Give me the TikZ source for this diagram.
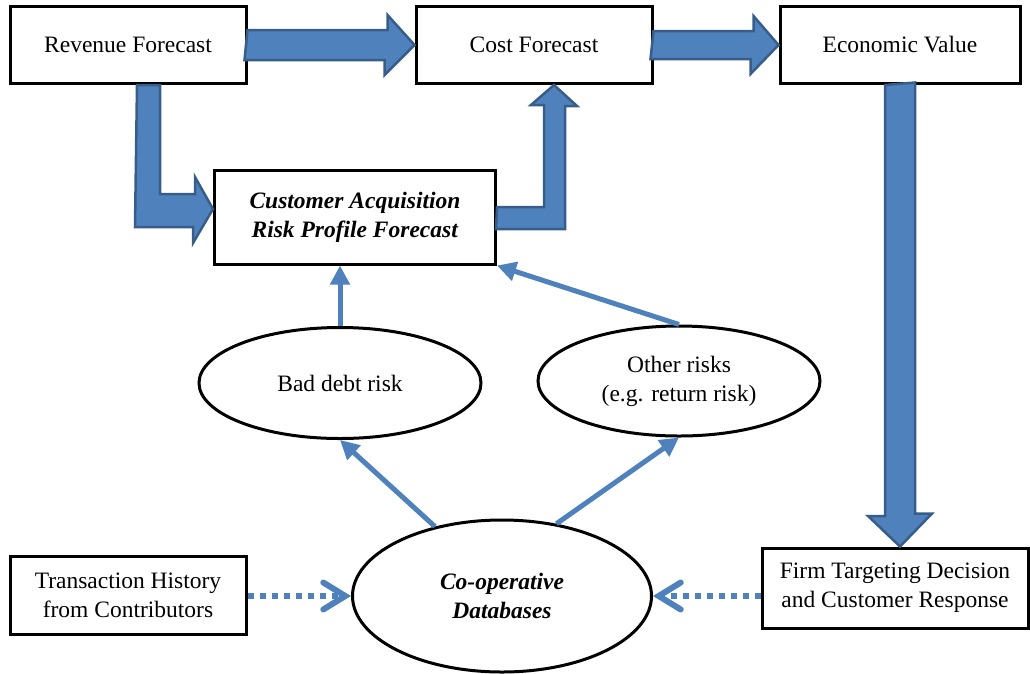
\documentclass[tikz,border=0pt]{standalone}
\usepackage{fontspec}
\setmainfont{Liberation Serif}
\usepackage{xcolor}
\usepackage{tikz}
\usetikzlibrary{arrows.meta,positioning,shapes.geometric}
\definecolor{FlowBlue}{HTML}{4F81BD}
\definecolor{FlowEdge}{HTML}{385D8A}

\begin{document}
\begin{tikzpicture}[
  x=1pt, y=-1pt,
  font=\fontsize{23.5}{29}\selectfont,
  box/.style={draw, line width=3pt, align=center, minimum width=236pt, minimum height=77pt},
  ell/.style={draw, ellipse, line width=3pt, align=center, inner sep=0pt},
  bigarr/.style={fill=FlowBlue, draw=FlowEdge, line width=2.5pt, line join=miter},
  arr/.style={draw=FlowBlue, line width=5pt, -{Triangle[length=19pt,width=19pt]}},
  dotarr/.style={draw=FlowBlue, line width=6pt, dash pattern=on 6pt off 6pt,
    -{Straight Barb[length=22pt,width=27pt,line cap=round]}}
]
  \useasboundingbox (0,0) rectangle (1030,673);

  \node[box] (rev) at (128,45) {Revenue Forecast};
  \node[box] (cost) at (534,45) {Cost Forecast};
  \node[box, minimum width=240pt] (econ) at (900,45) {Economic Value};
  \node[box, minimum width=281pt, minimum height=94pt] (cust) at (355,217)
    {\textbf{\textit{Customer Acquisition}}\\\textbf{\textit{Risk Profile Forecast}}};

  \node[ell, minimum width=282pt, minimum height=111pt] (bad) at (340,383) {Bad debt risk};
  \node[ell, minimum width=282pt, minimum height=110pt] (other) at (679,381) {Other risks\\(e.g. return risk)};
  \node[ell, minimum width=299pt, minimum height=152pt] (coop) at (502,596)
    {\textbf{\textit{Co-operative}}\\\textbf{\textit{Databases}}};

  \node[box, minimum height=78pt] (trans) at (128,595) {Transaction History\\from Contributors};
  \node[box, minimum width=266pt, minimum height=80pt] (firm) at (895,588) {Firm Targeting Decision\\and Customer Response};

  % block arrows
  \draw[bigarr] (rev.east) ++(0,-15) -- ++(140,0) -- ++(0,-15) -- (cost.west)
    -- ++(-30,30) -- ++(0,-15) -- ++(-140,0) -- cycle;
  \draw[bigarr] (cost.east) ++(0,-14) -- ++(100,0) -- ++(0,-15) -- (econ.west)
    -- ++(-28,29) -- ++(0,-15) -- ++(-100,0) -- cycle;
  \draw[bigarr] (econ.south) ++(-15,0) -- ++(0,431) -- ++(-17,0) -- (econ.south |- firm.north)
    -- ++(32,-33) -- ++(-17,0) -- ++(0,-431) -- cycle;
  \draw[bigarr] (rev.south) ++(9,0) -- ++(23,0) -- ++(0,109) -- ++(35,0) -- ++(0,-17)
    -- ([yshift=8pt]cust.west) -- ++(-20,34) -- ++(0,-16) -- ++(-58,0) -- cycle;
  \draw[bigarr] ([yshift=10pt]cust.east) -- ++(47,0) -- ++(0,-102) -- ++(-13,0)
    -- ([xshift=20pt]cost.south) -- ++(23,21) -- ++(-12,0) -- ++(0,123) -- ++(-69,0) -- cycle;

  % risk links
  \draw[arr] (bad.north) -- (bad.north |- cust.south);
  \draw[arr] (other.north) -- (cust.south east);
  \draw[arr] (coop.134) -- (bad.south);
  \draw[arr] (coop.53) -- (other.south);

  % data feeds
  \draw[dotarr] (trans.east |- coop.west) -- (coop.west);
  \draw[dotarr] (firm.west |- coop.east) -- (coop.east);
\end{tikzpicture}
\end{document}
